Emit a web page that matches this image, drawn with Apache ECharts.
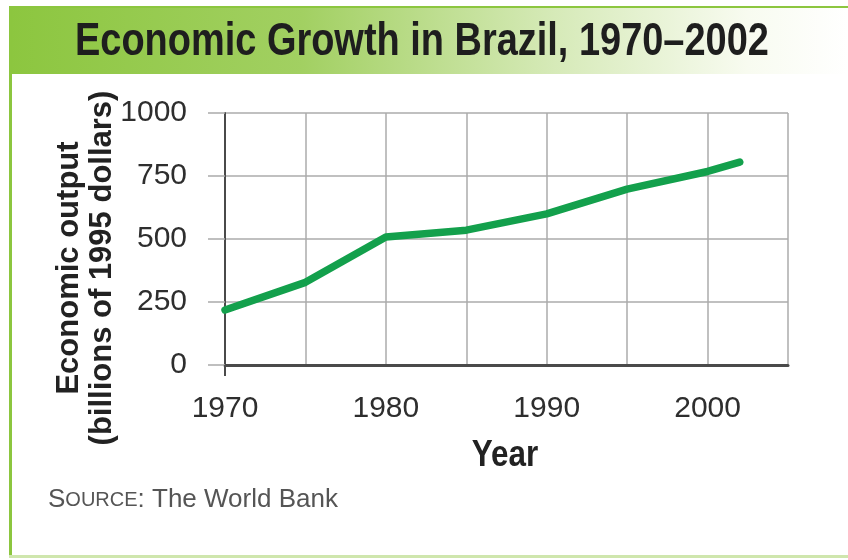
<!DOCTYPE html>
<html>
<head>
<meta charset="utf-8">
<script src="https://cdn.jsdelivr.net/npm/echarts@6/dist/echarts.min.js"></script>
<style>html,body{margin:0;padding:0;background:#fff}#c{width:848px;height:560px}</style>
</head>
<body>
<div id="c"></div>
<script>
// ---- data ----
const years = [1970, 1975, 1980, 1985, 1990, 1995, 2000, 2002];
const output = [218, 328, 508, 535, 600, 698, 768, 805];
const xTickLabels = [1970, 1980, 1990, 2000];
const yTicks = [0, 250, 500, 750, 1000];
const titleText = 'Economic Growth in Brazil, 1970\u20132002';
const yName1 = 'Economic output';
const yName2 = '(billions of 1995 dollars)';
const xName = 'Year';

const chart = echarts.init(document.getElementById('c'), null, {renderer: 'canvas'});
const SANS = '"Liberation Sans", Arial, sans-serif';

const option = {
  animation: false,
  backgroundColor: '#ffffff',
  grid: {left: 225, right: 60, top: 113, bottom: 195, containLabel: false},
  xAxis: {
    type: 'value', min: 1970, max: 2005, interval: 5,
    axisLine: {show: true, lineStyle: {color: '#4a4a4a', width: 3}},
    axisTick: {show: false},
    splitLine: {show: true, lineStyle: {color: '#ababab', width: 1.5}},
    axisLabel: {
      margin: 29, color: '#2e2e2e', fontFamily: SANS, fontSize: 30,
      formatter: v => xTickLabels.indexOf(v) >= 0 ? String(v) : ''
    }
  },
  yAxis: {
    type: 'value', min: 0, max: 1000, interval: 250,
    axisLine: {show: true, lineStyle: {color: '#4a4a4a', width: 2}},
    axisTick: {show: true, inside: false, length: 17, lineStyle: {color: '#ababab', width: 1.5}},
    splitLine: {show: true, lineStyle: {color: '#ababab', width: 1.5}},
    axisLabel: {
      margin: 38, color: '#2e2e2e', fontFamily: SANS, fontSize: 30,
      formatter: v => yTicks.indexOf(v) >= 0 ? String(v) : ''
    }
  },
  series: [{
    type: 'line',
    data: years.map((y, i) => [y, output[i]]),
    showSymbol: false,
    lineStyle: {color: '#13a04c', width: 7.5, cap: 'round', join: 'round'},
    z: 5
  }],
  graphic: []
};
chart.setOption(option);

// decorations: frame, title bar, texts
const p0 = chart.convertToPixel({gridIndex: 0}, [1970, 0]);
const graphic = [
  {type: 'rect', z: -10, shape: {x: 9, y: 7, width: 839, height: 67},
   style: {fill: new echarts.graphic.LinearGradient(0, 0, 1, 0, [
     {offset: 0, color: '#8cc63f'}, {offset: 0.35, color: '#a2d062'},
     {offset: 0.65, color: '#d6eab8'}, {offset: 0.88, color: '#f8fbf0'}, {offset: 1, color: '#ffffff'}])}},
  {type: 'rect', z: -9, shape: {x: 9, y: 6, width: 839, height: 2}, style: {fill: '#8cc63f'}},
  {type: 'rect', z: -9, shape: {x: 9, y: 7, width: 3, height: 551}, style: {fill: '#8cc63f'}},
  {type: 'rect', z: -9, shape: {x: 9, y: 555, width: 839, height: 3}, style: {fill: '#cfe6ad'}},
  {type: 'text', x: 75, y: 42, scaleX: 0.825, originX: 0,
   style: {text: titleText, font: 'bold 46px ' + SANS, fill: '#1e1e1e', verticalAlign: 'middle'}},
  {type: 'text', x: 69, y: 268, rotation: Math.PI / 2,
   style: {text: yName1, font: 'bold 31px ' + SANS, fill: '#222', align: 'center', verticalAlign: 'middle'}},
  {type: 'text', x: 102, y: 268, rotation: Math.PI / 2,
   style: {text: yName2, font: 'bold 31px ' + SANS, fill: '#222', align: 'center', verticalAlign: 'middle'}},
  {type: 'text', x: 505, y: 456, scaleX: 0.85, originX: 0,
   style: {text: xName, font: 'bold 37px ' + SANS, fill: '#222', align: 'center', verticalAlign: 'middle'}},
  {type: 'text', x: 48, y: 500,
   style: {
     text: '{a|S}{b|OURCE}{a|: The World Bank}', verticalAlign: 'middle', fill: '#555',
     rich: {
       a: {fontFamily: SANS, fontSize: 26, fill: '#555'},
       b: {fontFamily: SANS, fontSize: 20, fill: '#555'}
     }
   }},
  {type: 'line', z: 10, shape: {x1: p0[0], y1: p0[1], x2: p0[0], y2: p0[1] + 11},
   style: {stroke: '#4a4a4a', lineWidth: 2}}
];
chart.setOption({graphic: graphic});
</script>
</body>
</html>
